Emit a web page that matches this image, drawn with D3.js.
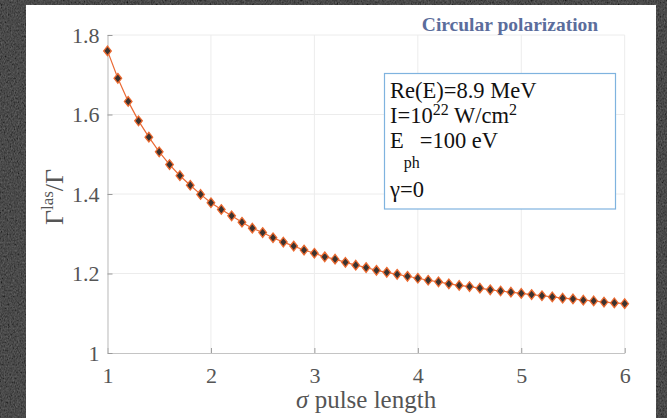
<!DOCTYPE html>
<html lang="en">
  <head>
    <meta charset="UTF-8" />
    <title>Circular polarization</title>
    <style>
      html, body { margin: 0; padding: 0; background: #141414; }
      svg { display: block; }
      text { font-family: "Liberation Serif", "Times New Roman", "DejaVu Serif", serif; }
    </style>
  </head>
  <body>
    <div class="chart"></div>
    <script src="https://d3js.org/d3.v7.min.js"></script>
    <script>
      // 數據：脈衝長度 sigma 與 Γlas/Γ
      const sigma = [
        1.0, 1.1, 1.2, 1.3, 1.4, 1.5, 1.6, 1.7, 1.8, 1.9,
        2.0, 2.1, 2.2, 2.3, 2.4, 2.5, 2.6, 2.7, 2.8, 2.9,
        3.0, 3.1, 3.2, 3.3, 3.4, 3.5, 3.6, 3.7, 3.8, 3.9,
        4.0, 4.1, 4.2, 4.3, 4.4, 4.5, 4.6, 4.7, 4.8, 4.9,
        5.0, 5.1, 5.2, 5.3, 5.4, 5.5, 5.6, 5.7, 5.8, 5.9, 6.0
      ];
      const ratio = [
        1.760, 1.691, 1.633, 1.584, 1.543, 1.506, 1.474, 1.446, 1.422, 1.399,
        1.378, 1.361, 1.345, 1.329, 1.314, 1.303, 1.290, 1.279, 1.269, 1.259,
        1.251, 1.242, 1.236, 1.228, 1.221, 1.215, 1.208, 1.203, 1.198, 1.193,
        1.188, 1.183, 1.179, 1.174, 1.170, 1.167, 1.163, 1.159, 1.156, 1.153,
        1.150, 1.147, 1.144, 1.141, 1.138, 1.136, 1.133, 1.131, 1.128, 1.126, 1.124
      ];
      const xTicks = [1, 2, 3, 4, 5, 6];
      const yTicks = [1, 1.2, 1.4, 1.6, 1.8];
      const yTickLabels = ['1', '1.2', '1.4', '1.6', '1.8'];
      const titleText = 'Circular polarization';
      const xLabel = 'pulse length';

      const data = sigma.map((s, i) => ({ s: s, r: ratio[i] }));

      // 建立SVG
      const svgWidth = 667, svgHeight = 418;
      const plotLeft = 107.5, plotRight = 624.7, plotTop = 35, plotBottom = 353;

      const svg = d3.select('.chart')
                    .append('svg')
                    .attr('width', svgWidth)
                    .attr('height', svgHeight);

      // 背景紋理
      const defs = svg.append('defs');
      const noise = defs.append('filter').attr('id', 'noise')
                        .attr('x', 0).attr('y', 0).attr('width', '100%').attr('height', '100%');
      noise.append('feTurbulence')
           .attr('type', 'fractalNoise')
           .attr('baseFrequency', '0.7 0.5')
           .attr('numOctaves', 3)
           .attr('seed', 7);
      noise.append('feColorMatrix')
           .attr('type', 'matrix')
           .attr('values', '0.33 0.33 0.33 0 0  0.33 0.33 0.33 0 0  0.33 0.33 0.33 0 0  0 0 0 0 1');
      noise.append('feComponentTransfer')
           .call(g => ['feFuncR', 'feFuncG', 'feFuncB'].forEach(f =>
             g.append(f).attr('type', 'linear').attr('slope', 0.24).attr('intercept', -0.05)));

      svg.append('rect')
         .attr('width', svgWidth).attr('height', svgHeight)
         .attr('fill', '#141414');
      svg.append('rect')
         .attr('width', svgWidth).attr('height', svgHeight)
         .attr('filter', 'url(#noise)');

      // 白色圖框
      svg.append('rect')
         .attr('x', 26).attr('y', 5)
         .attr('width', 630).attr('height', 413)
         .attr('fill', '#ffffff');

      // 比例尺
      const xScale = d3.scaleLinear().domain([1, 6]).range([plotLeft, plotRight]);
      const yScale = d3.scaleLinear().domain([1, 1.8]).range([plotBottom, plotTop]);

      // 網格線
      svg.append('g')
         .selectAll('line')
         .data(xTicks.slice(1))
         .join('line')
         .attr('x1', d => xScale(d)).attr('x2', d => xScale(d))
         .attr('y1', plotTop).attr('y2', plotBottom)
         .attr('stroke', '#ececec').attr('stroke-width', 1);
      svg.append('g')
         .selectAll('line')
         .data(yTicks.slice(1))
         .join('line')
         .attr('x1', plotLeft).attr('x2', plotRight)
         .attr('y1', d => yScale(d)).attr('y2', d => yScale(d))
         .attr('stroke', '#ececec').attr('stroke-width', 1);

      // X軸
      const xAxis = svg.append('g')
         .attr('transform', `translate(0,${plotBottom})`)
         .call(d3.axisBottom(xScale).tickValues(xTicks)
                 .tickSizeInner(-5).tickSizeOuter(0).tickPadding(14)
                 .tickFormat(d3.format('d')));

      // Y軸
      const yAxis = svg.append('g')
         .attr('transform', `translate(${plotLeft},0)`)
         .call(d3.axisLeft(yScale).tickValues(yTicks)
                 .tickSizeInner(-5).tickSizeOuter(0).tickPadding(8)
                 .tickFormat((d, i) => yTickLabels[i]));

      [xAxis, yAxis].forEach(ax => {
        ax.select('.domain').attr('stroke', '#c4c4c4').attr('stroke-width', 1.2);
        ax.selectAll('.tick line').attr('stroke', '#9a9a9a');
        ax.selectAll('.tick text')
          .attr('fill', '#555555')
          .style('font-family', '"Liberation Serif", "Times New Roman", serif')
          .style('font-size', '22px');
      });

      // 曲線
      const line = d3.line().x(d => xScale(d.s)).y(d => yScale(d.r));
      svg.append('path')
         .datum(data)
         .attr('d', line)
         .attr('fill', 'none')
         .attr('stroke', '#ea6a35')
         .attr('stroke-width', 1.2);

      // 菱形標記
      svg.append('g')
         .selectAll('path')
         .data(data)
         .join('path')
         .attr('transform', d => `translate(${xScale(d.s)},${yScale(d.r)})`)
         .attr('d', 'M0,-4.8L3.8,0L0,4.8L-3.8,0Z')
         .attr('fill', '#3a3330')
         .attr('stroke', '#ec6a30')
         .attr('stroke-width', 1.3);

      // 標題
      svg.append('text')
         .attr('x', 510).attr('y', 31)
         .attr('text-anchor', 'middle')
         .style('font-size', '19.5px')
         .style('font-weight', 'bold')
         .attr('fill', '#5b6d9c')
         .text(titleText);

      // X軸標題
      const xl = svg.append('text')
         .attr('x', (plotLeft + plotRight) / 2).attr('y', 408)
         .attr('text-anchor', 'middle')
         .attr('fill', '#555555')
         .style('font-size', '25px');
      xl.append('tspan').style('font-style', 'italic').text('σ');
      xl.append('tspan').text(' ' + xLabel);

      // Y軸標題
      const yl = svg.append('text')
         .attr('transform', 'translate(63,197) rotate(-90)')
         .attr('text-anchor', 'middle')
         .attr('fill', '#555555')
         .style('font-size', '26px');
      yl.append('tspan').text('Γ');
      yl.append('tspan').attr('dy', -10).style('font-size', '17px').text('las');
      yl.append('tspan').attr('dy', 10).text('/Γ');

      // 參數框
      svg.append('rect')
         .attr('x', 384.5).attr('y', 73.5)
         .attr('width', 231).attr('height', 135.5)
         .attr('fill', '#ffffff')
         .attr('stroke', '#7fb3df').attr('stroke-width', 1.2);

      const info = svg.append('g').attr('fill', '#111111').style('font-size', '22.5px');
      info.append('text').attr('x', 390).attr('y', 98).text('Re(E)=8.9 MeV');
      const l2 = info.append('text').attr('x', 390).attr('y', 123);
      l2.append('tspan').text('I=10');
      l2.append('tspan').attr('dy', -8).style('font-size', '16px').text('22');
      l2.append('tspan').attr('dy', 8).text(' W/cm');
      l2.append('tspan').attr('dy', -8).style('font-size', '16px').text('2');
      const l3 = info.append('text').attr('x', 390).attr('y', 148);
      l3.append('tspan').text('E');
      l3.append('tspan').attr('dy', 20).style('font-size', '16px').text('ph');
      l3.append('tspan').attr('dy', -20).text('=100 eV');
      info.append('text').attr('x', 390).attr('y', 197).text('γ=0');
    </script>
  </body>
</html>
